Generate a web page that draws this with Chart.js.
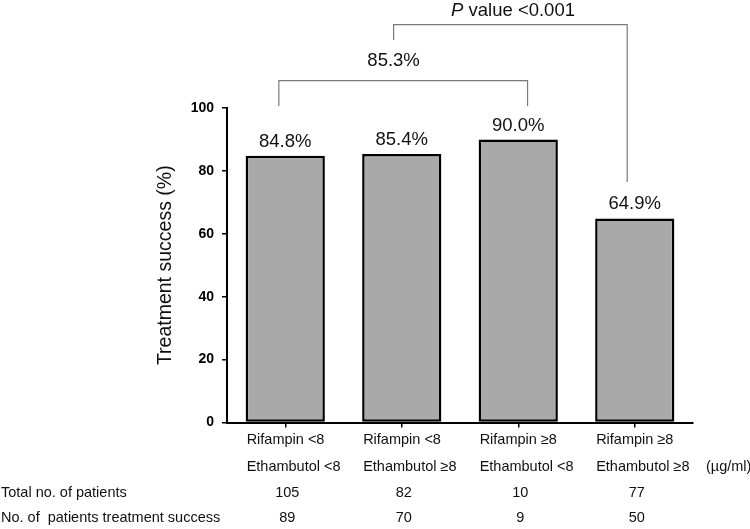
<!DOCTYPE html>
<html>
<head>
<meta charset="utf-8">
<script src="https://cdn.jsdelivr.net/npm/chart.js@4"></script>
<style>
  html, body { margin: 0; padding: 0; background: #fff; }
  #wrap { width: 750px; height: 529px; }
</style>
</head>
<body>
<div id="wrap"><canvas id="grafico" width="750" height="529"></canvas></div>
<script>
// dados
const rifampina = ['Rifampin <8', 'Rifampin <8', 'Rifampin \u22658', 'Rifampin \u22658'];
const etambutol = ['Ethambutol <8', 'Ethambutol \u22658', 'Ethambutol <8', 'Ethambutol \u22658'];
const sucesso = [84.8, 85.4, 90.0, 64.9];
const totalPacientes = [105, 82, 10, 77];
const pacientesSucesso = [89, 70, 9, 50];
const rotulosLinhas = ['Total no. of patients', 'No. of  patients treatment success'];
const unidade = '(\u00b5g/ml)';
const yTicks = [0, 20, 40, 60, 80, 100];

// colchetes em unidades do gráfico (x = índice da categoria, y = %)
const colchete1 = { x1: -0.055, x2: 2.08, yTopo: 108.7, yPernaEsq: 100.6, yPernaDir: 100.6, texto: '85.3%', xTexto: 0.93, yTexto: 115.0 };
const colchete2 = { x1: 0.93, x2: 2.935, yTopo: 126.5, yPernaEsq: 121.6, yPernaDir: 76.5, texto: 'value <0.001', xTexto: 1.955, yTexto: 130.8 };

const FONTE = '"Liberation Sans", Arial, sans-serif';

const anotacoes = {
    id: 'anotacoes',
    afterDraw(chart) {
        const ctx = chart.ctx;
        const xs = chart.scales.x;
        const ys = chart.scales.y;
        const meta = chart.getDatasetMeta(0);
        ctx.save();

        // rótulos de valor acima das barras
        ctx.fillStyle = '#111';
        ctx.font = '18.5px ' + FONTE;
        ctx.textAlign = 'center';
        ctx.textBaseline = 'middle';
        meta.data.forEach((bar, i) => {
            ctx.fillText(sucesso[i].toFixed(1) + '%', bar.x, bar.y - 14);
        });

        // colchetes
        ctx.strokeStyle = '#7a7a7a';
        ctx.lineWidth = 1.2;
        [colchete1, colchete2].forEach(c => {
            const xa = xs.getPixelForValue(c.x1);
            const xb = xs.getPixelForValue(c.x2);
            ctx.beginPath();
            ctx.moveTo(xa, ys.getPixelForValue(c.yPernaEsq));
            ctx.lineTo(xa, ys.getPixelForValue(c.yTopo));
            ctx.lineTo(xb, ys.getPixelForValue(c.yTopo));
            ctx.lineTo(xb, ys.getPixelForValue(c.yPernaDir));
            ctx.stroke();
        });
        ctx.fillStyle = '#111';
        ctx.font = '18.5px ' + FONTE;
        ctx.fillText(colchete1.texto, xs.getPixelForValue(colchete1.xTexto), ys.getPixelForValue(colchete1.yTexto));

        // "P value <0.001" com P em itálico
        const tx = xs.getPixelForValue(colchete2.xTexto);
        const ty = ys.getPixelForValue(colchete2.yTexto);
        ctx.font = 'italic 18.5px ' + FONTE;
        const wP = ctx.measureText('P ').width;
        ctx.font = '18.5px ' + FONTE;
        const wResto = ctx.measureText(colchete2.texto).width;
        const inicio = tx - (wP + wResto) / 2;
        ctx.textAlign = 'left';
        ctx.font = 'italic 18.5px ' + FONTE;
        ctx.fillText('P', inicio, ty);
        ctx.font = '18.5px ' + FONTE;
        ctx.fillText(colchete2.texto, inicio + wP, ty);

        // rótulos das categorias e contagens
        const linhasY = [440, 466.5, 492.5, 518.3];
        ctx.font = '14.5px ' + FONTE;
        ctx.fillStyle = '#111';
        meta.data.forEach((bar, i) => {
            const esq = bar.x - bar.width / 2 + 1;
            ctx.textAlign = 'left';
            ctx.fillText(rifampina[i], esq, linhasY[0]);
            ctx.fillText(etambutol[i], esq, linhasY[1]);
            ctx.textAlign = 'center';
            ctx.fillText(String(totalPacientes[i]), bar.x + 2, linhasY[2]);
            ctx.fillText(String(pacientesSucesso[i]), bar.x + 2, linhasY[3]);
        });
        ctx.textAlign = 'left';
        ctx.fillText(unidade, xs.right + 13, linhasY[1]);
        ctx.fillText(rotulosLinhas[0], 1, linhasY[2]);
        ctx.fillText(rotulosLinhas[1], 1, linhasY[3]);

        ctx.restore();
    }
};

new Chart(document.getElementById('grafico'), {
    type: 'bar',
    data: {
        labels: rifampina.map((r, i) => r + ' / ' + etambutol[i]),
        datasets: [{
            data: sucesso,
            backgroundColor: '#a9a9a9',
            borderColor: '#000',
            borderWidth: 2.5,
            borderSkipped: false,
            barPercentage: 0.68,
            categoryPercentage: 1
        }]
    },
    options: {
        responsive: false,
        animation: false,
        layout: { padding: { left: 150, top: 108, right: 57, bottom: 0 } },
        plugins: {
            legend: { display: false },
            tooltip: { enabled: false }
        },
        scales: {
            x: {
                offset: true,
                afterFit: (scale) => { scale.height = 106.5; },
                ticks: { display: false },
                grid: {
                    display: true,
                    drawOnChartArea: false,
                    offset: false,
                    tickLength: 5,
                    color: '#000',
                    lineWidth: 1.5
                },
                border: { color: '#000', width: 2 }
            },
            y: {
                min: 0,
                max: 100,
                afterFit: (scale) => { scale.width = 77; },
                afterBuildTicks: (scale) => { scale.ticks = yTicks.map(v => ({ value: v })); },
                ticks: {
                    color: '#000',
                    padding: 8,
                    font: { family: FONTE, size: 14, weight: 'bold' }
                },
                grid: {
                    display: true,
                    drawOnChartArea: false,
                    tickLength: 5,
                    color: '#000',
                    lineWidth: 1.5
                },
                border: { color: '#000', width: 2 },
                title: {
                    display: true,
                    text: 'Treatment success (%)',
                    color: '#111',
                    font: { family: FONTE, size: 19.5 },
                    padding: { top: 4, bottom: 0 }
                }
            }
        }
    },
    plugins: [anotacoes]
});
</script>
</body>
</html>
